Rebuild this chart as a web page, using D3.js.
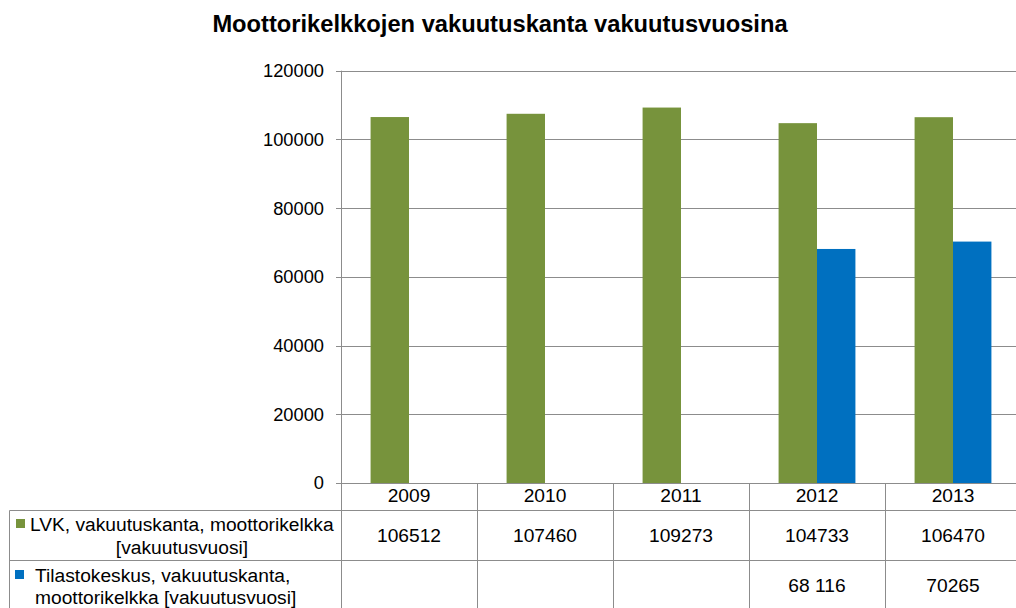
<!DOCTYPE html>
<html>
<head>
<meta charset="utf-8">
<script src="https://cdn.jsdelivr.net/npm/d3@7"></script>
<style>
  body { margin: 0; background: #fff; }
  text { font-family: "Liberation Sans", Arial, sans-serif; fill: #000; }
</style>
</head>
<body>
<script>
const width = 1016;
const height = 608;

const years = ["2009", "2010", "2011", "2012", "2013"];
const lvkValues = [106512, 107460, 109273, 104733, 106470];
const tkValues = [null, null, null, 68116, 70265];
const tkLabels = ["", "", "", "68 116", "70265"];
const yTicks = [0, 20000, 40000, 60000, 80000, 100000, 120000];

const seriesKeys = ["lvk", "tk"];
const seriesColor = { lvk: "#77933C", tk: "#0070C0" };

const gridColor = "#8c8c8c";
const tickFont = 18.3;
const tableFont = 19.2;

const svg = d3.select("body").append("svg")
    .attr("width", width)
    .attr("height", height);

// title
svg.append("text")
    .attr("x", 500)
    .attr("y", 32)
    .attr("text-anchor", "middle")
    .style("font-weight", "bold")
    .style("font-size", "23.7px")
    .text("Moottorikelkkojen vakuutuskanta vakuutusvuosina");

const plotLeft = 341, plotRight = 1021, plotTop = 70.7, plotBottom = 483;

const x = d3.scaleBand().domain(years).range([plotLeft, plotRight]);
const x1 = d3.scaleBand().domain(seriesKeys).range([0, x.bandwidth()])
    .paddingInner(0).paddingOuter(0.77);
const y = d3.scaleLinear().domain([0, 120000]).range([plotBottom, plotTop]);

// gridlines and y labels
const grid = svg.append("g");
for (const t of yTicks) {
    grid.append("line")
        .attr("x1", plotLeft - 5).attr("x2", width)
        .attr("y1", Math.round(y(t)) + 0.5).attr("y2", Math.round(y(t)) + 0.5)
        .attr("stroke", gridColor).attr("stroke-width", 1);
    grid.append("text")
        .attr("x", 324)
        .attr("y", y(t))
        .attr("dy", "0.35em")
        .attr("text-anchor", "end")
        .style("font-size", tickFont + "px")
        .text(t);
}

// bars
const rows = years.map((yr, i) => ({ year: yr, lvk: lvkValues[i], tk: tkValues[i] }));
const groups = svg.append("g").selectAll("g")
    .data(rows)
    .join("g")
    .attr("transform", d => `translate(${x(d.year)},0)`);

groups.selectAll("rect")
    .data(d => seriesKeys.filter(k => d[k] != null).map(k => ({ key: k, value: d[k] })))
    .join("rect")
    .attr("x", d => x1(d.key))
    .attr("width", x1.bandwidth())
    .attr("y", d => y(d.value))
    .attr("height", d => y(0) - y(d.value))
    .attr("fill", d => seriesColor[d.key]);

// data table
const table = svg.append("g");
const rowLine1 = 510.5, rowLine2 = 560.5, tableLeft = 9.5;

table.append("line")
    .attr("x1", plotLeft - 5).attr("x2", width)
    .attr("y1", Math.round(y(0)) + 0.5).attr("y2", Math.round(y(0)) + 0.5)
    .attr("stroke", gridColor);
for (const yy of [rowLine1, rowLine2]) {
    table.append("line")
        .attr("x1", tableLeft).attr("x2", width)
        .attr("y1", yy).attr("y2", yy)
        .attr("stroke", gridColor);
}
table.append("line")
    .attr("x1", tableLeft).attr("x2", tableLeft)
    .attr("y1", rowLine1).attr("y2", height)
    .attr("stroke", gridColor);
// axis line continuing into table
table.append("line")
    .attr("x1", plotLeft + 0.5).attr("x2", plotLeft + 0.5)
    .attr("y1", plotTop).attr("y2", height)
    .attr("stroke", gridColor);
for (const yr of years.slice(1)) {
    const xx = Math.round(x(yr)) + 0.5;
    table.append("line")
        .attr("x1", xx).attr("x2", xx)
        .attr("y1", plotBottom).attr("y2", height)
        .attr("stroke", gridColor);
}

// year labels
table.selectAll(".yr")
    .data(years)
    .join("text")
    .attr("x", d => x(d) + x.bandwidth() / 2)
    .attr("y", 502)
    .attr("text-anchor", "middle")
    .style("font-size", tableFont + "px")
    .text(d => d);

// values
table.selectAll(".v1")
    .data(lvkValues)
    .join("text")
    .attr("x", (d, i) => x(years[i]) + x.bandwidth() / 2)
    .attr("y", 542)
    .attr("text-anchor", "middle")
    .style("font-size", tableFont + "px")
    .text(d => d);

table.selectAll(".v2")
    .data(tkLabels)
    .join("text")
    .attr("x", (d, i) => x(years[i]) + x.bandwidth() / 2)
    .attr("y", 592)
    .attr("text-anchor", "middle")
    .style("font-size", tableFont + "px")
    .text(d => d);

// legend keys in table
table.append("rect").attr("x", 16).attr("y", 519).attr("width", 9).attr("height", 9)
    .attr("fill", seriesColor.lvk);
table.append("text").attr("x", 30).attr("y", 531)
    .style("font-size", tableFont + "px")
    .text("LVK, vakuutuskanta, moottorikelkka");
table.append("text").attr("x", 182).attr("y", 554)
    .attr("text-anchor", "middle")
    .style("font-size", tableFont + "px")
    .text("[vakuutusvuosi]");

table.append("rect").attr("x", 15).attr("y", 570).attr("width", 9).attr("height", 9)
    .attr("fill", seriesColor.tk);
table.append("text").attr("x", 35).attr("y", 582)
    .style("font-size", tableFont + "px")
    .text("Tilastokeskus, vakuutuskanta,");
table.append("text").attr("x", 35).attr("y", 604)
    .style("font-size", tableFont + "px")
    .text("moottorikelkka [vakuutusvuosi]");
</script>
</body>
</html>
